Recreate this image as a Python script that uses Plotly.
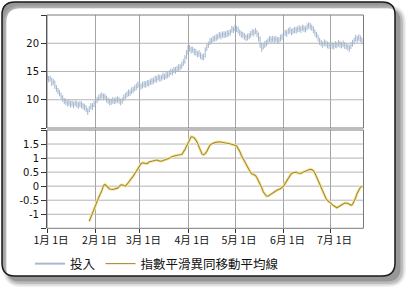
import plotly.graph_objects as go
import datetime as dt

W, H = 409, 291
start = dt.date(2009, 1, 1)

opens = [14.0, 14.1, 13.6, 13.8, 13.0, 13.2, 12.4, 12.0, 11.5, 11.2,
         10.6, 10.2, 9.8, 9.6, 9.4, 9.5, 9.2, 9.4, 9.1, 9.4,
         9.2, 9.0, 9.3, 9.1, 8.9, 8.7, 8.4, 7.9, 8.4, 8.9,
         8.8, 9.3, 9.6, 10.0, 10.3, 10.6, 10.8, 10.5, 10.6, 10.1,
         9.9, 9.6, 9.7, 9.9, 9.8, 9.9, 10.1, 9.9, 9.6, 9.9,
         10.4, 10.6, 11.0, 11.2, 11.3, 11.6, 11.8, 12.1, 12.3, 12.7,
         12.5, 12.4, 12.6, 12.8, 12.7, 13.0, 12.9, 13.2, 13.3, 13.4,
         13.7, 13.6, 14.0, 13.8, 13.9, 14.2, 14.1, 14.3, 14.4, 14.6,
         15.0, 14.9, 15.3, 15.2, 15.5, 15.7, 15.8, 16.1, 16.6, 17.4,
         18.2, 19.0, 19.1, 18.8, 18.9, 18.5, 18.4, 18.1, 18.2, 17.8,
         17.6, 17.6, 18.8, 19.3, 19.8, 20.3, 20.5, 20.75, 20.9, 21.0,
         21.2, 21.45, 21.3, 21.6, 21.5, 21.6, 21.7, 21.75, 22.0, 22.5,
         22.4, 22.7, 22.6, 22.3, 21.9, 21.6, 21.45, 21.2, 21.0, 21.1,
         21.3, 21.6, 22.0, 21.8, 22.15, 21.7, 20.9, 19.8, 19.1, 19.5,
         19.8, 20.0, 20.4, 20.75, 20.6, 20.8, 20.6, 20.75, 20.5, 20.6,
         20.9, 21.2, 21.5, 21.9, 21.7, 22.2, 22.3, 22.0, 22.15, 22.4,
         22.3, 22.5, 22.6, 22.4, 22.75, 22.6, 22.5, 22.9, 23.2, 23.0,
         22.75, 22.4, 21.8, 21.45, 20.9, 20.3, 20.0, 19.8, 20.1, 19.95,
         19.7, 19.6, 19.8, 19.6, 19.5, 19.8, 19.7, 20.0, 19.8, 19.7,
         19.9, 19.6, 19.5, 19.3, 19.1, 19.6, 20.0, 20.4, 20.9, 20.7,
         21.0, 20.8]
highs = [14.6, 14.2, 14.3, 13.9, 13.7, 13.4, 12.6, 12.1, 11.7, 11.2,
         10.8, 10.3, 10.2, 9.9, 10.1, 9.8, 9.9, 9.7, 9.9, 9.8,
         9.6, 9.8, 9.7, 9.4, 9.3, 9.0, 8.5, 8.9, 9.4, 9.4,
         9.8, 10.2, 10.5, 10.9, 11.1, 11.3, 11.1, 11.1, 10.7, 10.4,
         10.2, 10.2, 10.5, 10.3, 10.5, 10.6, 10.5, 10.2, 10.4, 10.9,
         11.2, 11.5, 11.8, 11.8, 12.2, 12.3, 12.6, 12.9, 13.2, 13.1,
         12.9, 13.2, 13.3, 13.3, 13.5, 13.5, 13.7, 13.9, 13.9, 14.3,
         14.2, 14.5, 14.4, 14.4, 14.8, 14.6, 14.9, 14.9, 15.2, 15.5,
         15.5, 15.8, 15.8, 16.0, 16.3, 16.3, 16.7, 17.2, 17.9, 18.8,
         19.6, 19.7, 19.4, 19.4, 19.1, 19.0, 18.6, 18.8, 18.4, 18.1,
         18.2, 19.3, 19.9, 20.3, 20.9, 21.0, 21.3, 21.4, 21.6, 21.7,
         22.0, 21.9, 22.1, 22.1, 22.1, 22.3, 22.3, 22.5, 23.1, 22.9,
         23.3, 23.1, 22.9, 22.4, 22.2, 22.0, 21.8, 21.5, 21.7, 21.8,
         22.2, 22.5, 22.4, 22.7, 22.3, 21.9, 21.2, 20.1, 20.1, 20.4,
         20.6, 20.9, 21.3, 21.2, 21.3, 21.2, 21.3, 21.1, 21.1, 21.5,
         21.7, 22.1, 22.4, 22.3, 22.7, 22.9, 22.6, 22.7, 22.9, 22.9,
         23.0, 23.2, 23.0, 23.3, 23.2, 23.0, 23.5, 23.7, 23.6, 23.3,
         23.0, 22.4, 22.0, 21.5, 20.9, 20.6, 20.3, 20.7, 20.5, 20.3,
         20.2, 20.3, 20.2, 20.1, 20.4, 20.2, 20.6, 20.4, 20.2, 20.5,
         20.2, 20.0, 19.9, 19.7, 20.2, 20.6, 21.0, 21.5, 21.3, 21.6,
         21.4, 21.0]
lows = [13.5, 13.1, 13.2, 12.4, 12.6, 11.9, 11.4, 11.0, 10.6, 10.1,
        9.6, 9.2, 9.1, 8.8, 8.9, 8.6, 8.8, 8.5, 8.9, 8.6,
        8.4, 8.7, 8.5, 8.3, 8.1, 7.8, 7.3, 7.8, 8.3, 8.2,
        8.7, 9.0, 9.4, 9.8, 10.0, 10.2, 9.9, 10.0, 9.5, 9.3,
        9.0, 9.1, 9.3, 9.2, 9.3, 9.5, 9.3, 9.0, 9.3, 9.8,
        10.0, 10.4, 10.6, 10.7, 11.0, 11.2, 11.5, 11.7, 12.1, 11.9,
        11.8, 12.0, 12.2, 12.1, 12.4, 12.3, 12.6, 12.7, 12.8, 13.1,
        13.0, 13.4, 13.2, 13.3, 13.6, 13.5, 13.7, 13.8, 14.0, 14.4,
        14.3, 14.7, 14.6, 14.9, 15.1, 15.2, 15.5, 16.0, 16.4, 17.2,
        18.0, 18.5, 18.2, 18.3, 17.9, 17.8, 17.5, 17.6, 17.2, 17.0,
        17.0, 17.5, 18.7, 19.2, 19.7, 19.9, 20.2, 20.3, 20.4, 20.6,
        20.9, 20.7, 21.0, 20.9, 21.0, 21.1, 21.2, 21.4, 21.9, 21.8,
        22.1, 22.0, 21.7, 21.3, 21.0, 20.9, 20.6, 20.4, 20.5, 20.7,
        21.0, 21.4, 21.2, 21.6, 21.1, 20.3, 19.2, 18.5, 18.9, 19.2,
        19.4, 19.8, 20.2, 20.0, 20.2, 20.0, 20.2, 19.9, 20.0, 20.3,
        20.6, 20.9, 21.3, 21.1, 21.6, 21.7, 21.4, 21.6, 21.8, 21.7,
        21.9, 22.0, 21.8, 22.2, 22.0, 21.9, 22.3, 22.6, 22.4, 22.2,
        21.8, 21.2, 20.9, 20.3, 19.7, 19.4, 19.2, 19.5, 19.4, 19.1,
        19.0, 19.2, 19.0, 18.9, 19.2, 19.1, 19.4, 19.2, 19.1, 19.3,
        19.0, 18.9, 18.7, 18.5, 19.0, 19.4, 19.8, 20.3, 20.1, 20.4,
        20.2, 19.8]
closes = [14.1, 13.6, 13.8, 13.0, 13.2, 12.4, 12.0, 11.5, 11.2, 10.6,
          10.2, 9.8, 9.6, 9.4, 9.5, 9.2, 9.4, 9.1, 9.4, 9.2,
          9.0, 9.3, 9.1, 8.9, 8.7, 8.4, 7.9, 8.4, 8.9, 8.8,
          9.3, 9.6, 10.0, 10.3, 10.6, 10.8, 10.5, 10.6, 10.1, 9.9,
          9.6, 9.7, 9.9, 9.8, 9.9, 10.1, 9.9, 9.6, 9.9, 10.4,
          10.6, 11.0, 11.2, 11.3, 11.6, 11.8, 12.1, 12.3, 12.7, 12.5,
          12.4, 12.6, 12.8, 12.7, 13.0, 12.9, 13.2, 13.3, 13.4, 13.7,
          13.6, 14.0, 13.8, 13.9, 14.2, 14.1, 14.3, 14.4, 14.6, 15.0,
          14.9, 15.3, 15.2, 15.5, 15.7, 15.8, 16.1, 16.6, 17.4, 18.2,
          19.0, 19.1, 18.8, 18.9, 18.5, 18.4, 18.1, 18.2, 17.8, 17.6,
          17.6, 18.8, 19.3, 19.8, 20.3, 20.5, 20.75, 20.9, 21.0, 21.2,
          21.45, 21.3, 21.6, 21.5, 21.6, 21.7, 21.75, 22.0, 22.5, 22.4,
          22.7, 22.6, 22.3, 21.9, 21.6, 21.45, 21.2, 21.0, 21.1, 21.3,
          21.6, 22.0, 21.8, 22.15, 21.7, 20.9, 19.8, 19.1, 19.5, 19.8,
          20.0, 20.4, 20.75, 20.6, 20.8, 20.6, 20.75, 20.5, 20.6, 20.9,
          21.2, 21.5, 21.9, 21.7, 22.2, 22.3, 22.0, 22.15, 22.4, 22.3,
          22.5, 22.6, 22.4, 22.75, 22.6, 22.5, 22.9, 23.2, 23.0, 22.75,
          22.4, 21.8, 21.45, 20.9, 20.3, 20.0, 19.8, 20.1, 19.95, 19.7,
          19.6, 19.8, 19.6, 19.5, 19.8, 19.7, 20.0, 19.8, 19.7, 19.9,
          19.6, 19.5, 19.3, 19.1, 19.6, 20.0, 20.4, 20.9, 20.7, 21.0,
          20.8, 20.4]
price_dates = [start + dt.timedelta(days=i) for i in range(len(closes))]

macd_days = [27, 29, 31, 33, 35, 36, 37, 38, 39, 40, 42, 44, 45, 46, 47, 48, 50, 51, 52, 54,
             55, 57, 59, 60, 61, 62, 64, 65, 67, 68, 70, 71, 73, 75, 76, 78, 80, 81, 83, 86,
             87, 88, 89, 90, 91, 92, 93, 94, 95, 96, 97, 98, 99, 100, 101, 102, 103, 104, 105, 107,
             110, 112, 114, 116, 118, 120, 121, 122, 123, 124, 125, 126, 127, 128, 129, 130, 131, 133, 134, 135,
             136, 137, 138, 139, 140, 141, 142, 144, 146, 147, 149, 150, 151, 152, 153, 154, 155, 156, 157, 159,
             160, 162, 163, 165, 167, 168, 169, 170, 171, 172, 173, 174, 175, 176, 177, 178, 179, 180, 181, 183,
             185, 186, 187, 189, 190, 192, 193, 194, 195, 196, 197, 198, 199, 200, 201]
macd_vals = [-1.25, -0.95, -0.7, -0.4, -0.16, 0.02, 0.06, 0.0, -0.06, -0.1, -0.12, -0.1, -0.07, -0.02, 0.04, 0.05, 0.0, 0.06, 0.13, 0.3,
             0.36, 0.53, 0.72, 0.8, 0.83, 0.82, 0.8, 0.86, 0.89, 0.9, 0.93, 0.91, 0.89, 0.93, 0.95, 0.99, 1.06, 1.08, 1.1, 1.13,
             1.2, 1.3, 1.42, 1.55, 1.68, 1.76, 1.75, 1.72, 1.64, 1.55, 1.4, 1.25, 1.14, 1.12, 1.16, 1.24, 1.35, 1.46, 1.5, 1.55,
             1.58, 1.57, 1.54, 1.52, 1.5, 1.46, 1.43, 1.35, 1.24, 1.1, 1.0, 0.9, 0.8, 0.66, 0.56, 0.48, 0.43, 0.38, 0.3, 0.2,
             0.1, -0.05, -0.2, -0.3, -0.35, -0.36, -0.32, -0.25, -0.18, -0.14, -0.09, -0.06, 0.0, 0.1, 0.2, 0.3, 0.4, 0.45, 0.48, 0.5,
             0.47, 0.45, 0.49, 0.54, 0.58, 0.6, 0.59, 0.55, 0.46, 0.33, 0.2, 0.04, -0.1, -0.23, -0.33, -0.43, -0.51, -0.56, -0.6, -0.7,
             -0.77, -0.74, -0.7, -0.64, -0.6, -0.61, -0.65, -0.68, -0.65, -0.55, -0.41, -0.25, -0.12, -0.04, 0.0]
macd_dates = [start + dt.timedelta(days=d) for d in macd_days]

month_ticks = [dt.date(2009, m, 1) for m in range(1, 8)]
month_labels = ["1月 1日", "2月 1日", "3月 1日", "4月 1日", "5月 1日", "6月 1日", "7月 1日"]
top_ticks = [5, 10, 15, 20, 25]
top_labels = ["", "10", "15", "20", ""]
bot_ticks = [-1.5, -1, -0.5, 0, 0.5, 1, 1.5, 2]
bot_labels = ["", "-1", "-0.5", "0", "0.5", "1", "1.5", ""]

price_color = "#9bb0ca"
macd_color = "#a88a2c"
grid_color = "#a4a4a4"
hgrid_color = "#b4b4b4"

# layout in pixels
PL, PR = 47, 363.5
TOP_T, TOP_B = 15, 128
BOT_T, BOT_B = 130, 228.3

def px(x):
    return x / W

def py(y):
    return 1 - y / H

xr = [dt.datetime(2009, 1, 1), dt.datetime(2009, 7, 22)]

fig = go.Figure()
# horizontal grid lines at the tick values (drawn as traces, under the data)
for xa, ya, ticks in [("x", "y", top_ticks[1:-1]), ("x2", "y2", bot_ticks[1:-1])]:
    gx, gy = [], []
    for v in ticks:
        gx += [xr[0], xr[1], None]
        gy += [v, v, None]
    fig.add_trace(go.Scatter(x=gx, y=gy, mode="lines", xaxis=xa, yaxis=ya,
                             line=dict(color=hgrid_color, width=1), showlegend=False,
                             hoverinfo="skip"))
fig.add_trace(go.Ohlc(x=price_dates, open=opens, high=highs, low=lows, close=closes,
                      name="投入", xaxis="x", yaxis="y", tickwidth=0.25,
                      increasing=dict(line=dict(color=price_color, width=0.9)),
                      decreasing=dict(line=dict(color=price_color, width=0.9)),
                      showlegend=False, hoverinfo="skip"))
# legend entry for the price series (no data drawn)
fig.add_trace(go.Scatter(x=[None], y=[None], mode="lines", name="投入", xaxis="x", yaxis="y",
                         line=dict(color="#a6b9ce", width=2)))
fig.add_trace(go.Scatter(x=macd_dates, y=macd_vals, mode="lines", xaxis="x2", yaxis="y2",
                         line=dict(color="#f6eab0", width=3), showlegend=False, hoverinfo="skip"))
fig.add_trace(go.Scatter(x=macd_dates, y=macd_vals, mode="lines", xaxis="x2", yaxis="y2",
                         name="指數平滑異同移動平均線",
                         line=dict(color=macd_color, width=1.1), hoverinfo="skip"))

common_x = dict(range=xr, type="date", showgrid=True, gridcolor=grid_color, gridwidth=1,
                tickvals=month_ticks, zeroline=False, showline=False, automargin=False,
                rangeslider=dict(visible=False), fixedrange=True)
ycommon = dict(ticks="outside", ticklen=5, tickcolor="#333333", tickmode="array",
               showgrid=False, zeroline=False, showline=True,
               linecolor="#333333", linewidth=1, automargin=False, fixedrange=True,
               tickfont=dict(family="DejaVu Sans", size=10, color="#111111"))
fig.update_layout(
    width=W, height=H, margin=dict(l=0, r=0, t=0, b=0),
    paper_bgcolor="white", plot_bgcolor="rgba(0,0,0,0)",
    template="none",
    xaxis=dict(domain=[px(PL), px(PR)], anchor="y", matches="x2", showticklabels=False,
               ticks="", **common_x),
    xaxis2=dict(domain=[px(PL), px(PR)], anchor="y2", ticktext=month_labels, ticks="outside",
                ticklen=4, tickcolor="#333333", ticklabelshift=4, ticklabelstandoff=-2,
                tickfont=dict(family="Noto Sans CJK JP", size=10.5, color="#111111"),
                **common_x),
    yaxis=dict(domain=[py(TOP_B), py(TOP_T)], anchor="x", range=[5, 25], tickvals=top_ticks,
               ticktext=top_labels, **ycommon),
    yaxis2=dict(domain=[py(BOT_B), py(BOT_T)], anchor="x2", range=[-1.5, 2], tickvals=bot_ticks,
                ticktext=bot_labels, **ycommon),
    legend=dict(orientation="h", x=px(30), y=py(264), xanchor="left", yanchor="middle",
                bgcolor="rgba(0,0,0,0)", font=dict(family="Noto Sans CJK TC", size=12.5, color="#111111"),
                itemwidth=30),
    showlegend=True,
)

def rr_pts(x0, y0, x1, y1, r, reverse=False):
    if not reverse:
        segs = [
            ("L", [(x1 - r, y0)]), ("Q", [(x1, y0), (x1, y0 + r)]),
            ("L", [(x1, y1 - r)]), ("Q", [(x1, y1), (x1 - r, y1)]), ("L", [(x0 + r, y1)]),
            ("Q", [(x0, y1), (x0, y1 - r)]), ("L", [(x0, y0 + r)]), ("Q", [(x0, y0), (x0 + r, y0)]),
        ]
    else:
        segs = [
            ("Q", [(x0, y0), (x0, y0 + r)]), ("L", [(x0, y1 - r)]),
            ("Q", [(x0, y1), (x0 + r, y1)]), ("L", [(x1 - r, y1)]),
            ("Q", [(x1, y1), (x1, y1 - r)]), ("L", [(x1, y0 + r)]),
            ("Q", [(x1, y0), (x1 - r, y0)]), ("L", [(x0 + r, y0)]),
        ]
    s = f"M {px(x0 + r):.5f},{py(y0):.5f} "
    for cmd, ps in segs:
        s += cmd + " " + " ".join(f"{px(a):.5f},{py(b):.5f}" for a, b in ps) + " "
    return s + "Z "

FX0, FY0, FX1, FY1, FR = 2, 2, 395, 276, 13
inner = rr_pts(FX0, FY0, FX1, FY1, FR, reverse=True)

shapes = []
for d, grow, a in [(6, 5, 0.06), (6, 3.5, 0.09), (6, 2, 0.13), (5, 0.5, 0.2)]:
    outer = rr_pts(FX0 + d - grow, FY0 + d - grow + 2, FX1 + d + grow, FY1 + d + grow, FR + grow)
    shapes.append(dict(type="path", xref="paper", yref="paper", layer="below",
                       path=outer + inner, fillcolor=f"rgba(0,0,0,{a})", line=dict(width=0)))
shapes.append(dict(type="path", xref="paper", yref="paper", layer="below",
                   path=rr_pts(FX0, FY0, FX1, FY1, FR), fillcolor="rgba(0,0,0,0)",
                   line=dict(color="#1a1a1a", width=1.5)))
# panel frames
for (t, b) in [(TOP_T, TOP_B), (BOT_T, BOT_B)]:
    shapes.append(dict(type="rect", xref="paper", yref="paper", x0=px(PL), x1=px(PR),
                       y0=py(b), y1=py(t), line=dict(color="#7a7a7a", width=1),
                       fillcolor="rgba(0,0,0,0)", layer="above"))
fig.update_layout(shapes=shapes)

fig.write_html("out.html")
